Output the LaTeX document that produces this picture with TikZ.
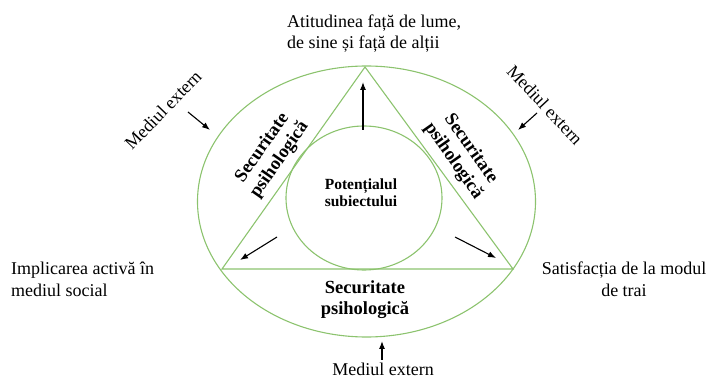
\documentclass[tikz,border=0pt]{standalone}
\usepackage{fontspec}
\setmainfont{Liberation Serif}
\usetikzlibrary{arrows.meta}
\definecolor{lgreen}{RGB}{140,195,110}
\begin{document}
\begin{tikzpicture}[x=1pt,y=-1pt,
  shapeline/.style={draw=lgreen, line width=1.1pt},
  arr/.style={-{Latex[length=8pt,width=6pt]}, line width=1.1pt},
  lbl/.style={font=\fontsize{18}{21.5}\selectfont, inner sep=0pt},
  blbl/.style={font=\bfseries\fontsize{18.5}{21}\selectfont, inner sep=0pt, align=center},
]
\useasboundingbox (0,0) rectangle (713,379);
% shapes
\draw[shapeline] (366.5,201.5) ellipse [x radius=169, y radius=135.5];
\coordinate (apex) at (365,67);
\coordinate (bl) at (222,269);
\coordinate (br) at (513,269);
\draw[shapeline] (apex) -- (bl) -- (br) -- cycle;
\draw[shapeline] (364,198) ellipse [x radius=78, y radius=72];
% texts
\node[lbl, align=left, anchor=west] (top) at (287,33.5) {Atitudinea față de lume,\\de sine și față de alții};
\node[lbl, rotate=46] (metl) at (163,110) {Mediul extern};
\node[lbl, rotate=-47] (metr) at (545,105) {Mediul extern};
\node[lbl] (meb) at (383,369.5) {Mediul extern};
\node[lbl, align=left, anchor=west] (impl) at (11,279.5) {Implicarea activă în\\mediul social};
\node[lbl, align=center] (sat) at (624,279.5) {Satisfacția de la modul\\de trai};
\node[blbl] (secb) at (365,299.5) {Securitate\\psihologică};
\node[blbl, rotate=55] (secl) at (271,154) {Securitate\\psihologică};
\node[blbl, rotate=-55] (secr) at (462,155) {Securitate\\psihologică};
\node[blbl, font=\bfseries\fontsize{15.5}{17}\selectfont] (pot) at (361,192.5) {Potențialul\\subiectului};
% arrow endpoints
\coordinate (a1s) at (188,112); \coordinate (a1e) at (210,130);
\coordinate (a2s) at (537,113); \coordinate (a2e) at (518,130);
\coordinate (a3s) at (382,360); \coordinate (a3e) at (382,341);
\coordinate (a4s) at (363,130); \coordinate (a4e) at (363,82);
\coordinate (a5s) at (277,237); \coordinate (a5e) at (240,260);
\coordinate (a6s) at (455,237); \coordinate (a6e) at (496,258);
\draw[arr] (a1s) -- (a1e);
\draw[arr] (a2s) -- (a2e);
\draw[arr] (a3s) -- (a3e);
\draw[arr] (a4s) -- (a4e);
\draw[arr] (a5s) -- (a5e);
\draw[arr] (a6s) -- (a6e);
\end{tikzpicture}
\end{document}
